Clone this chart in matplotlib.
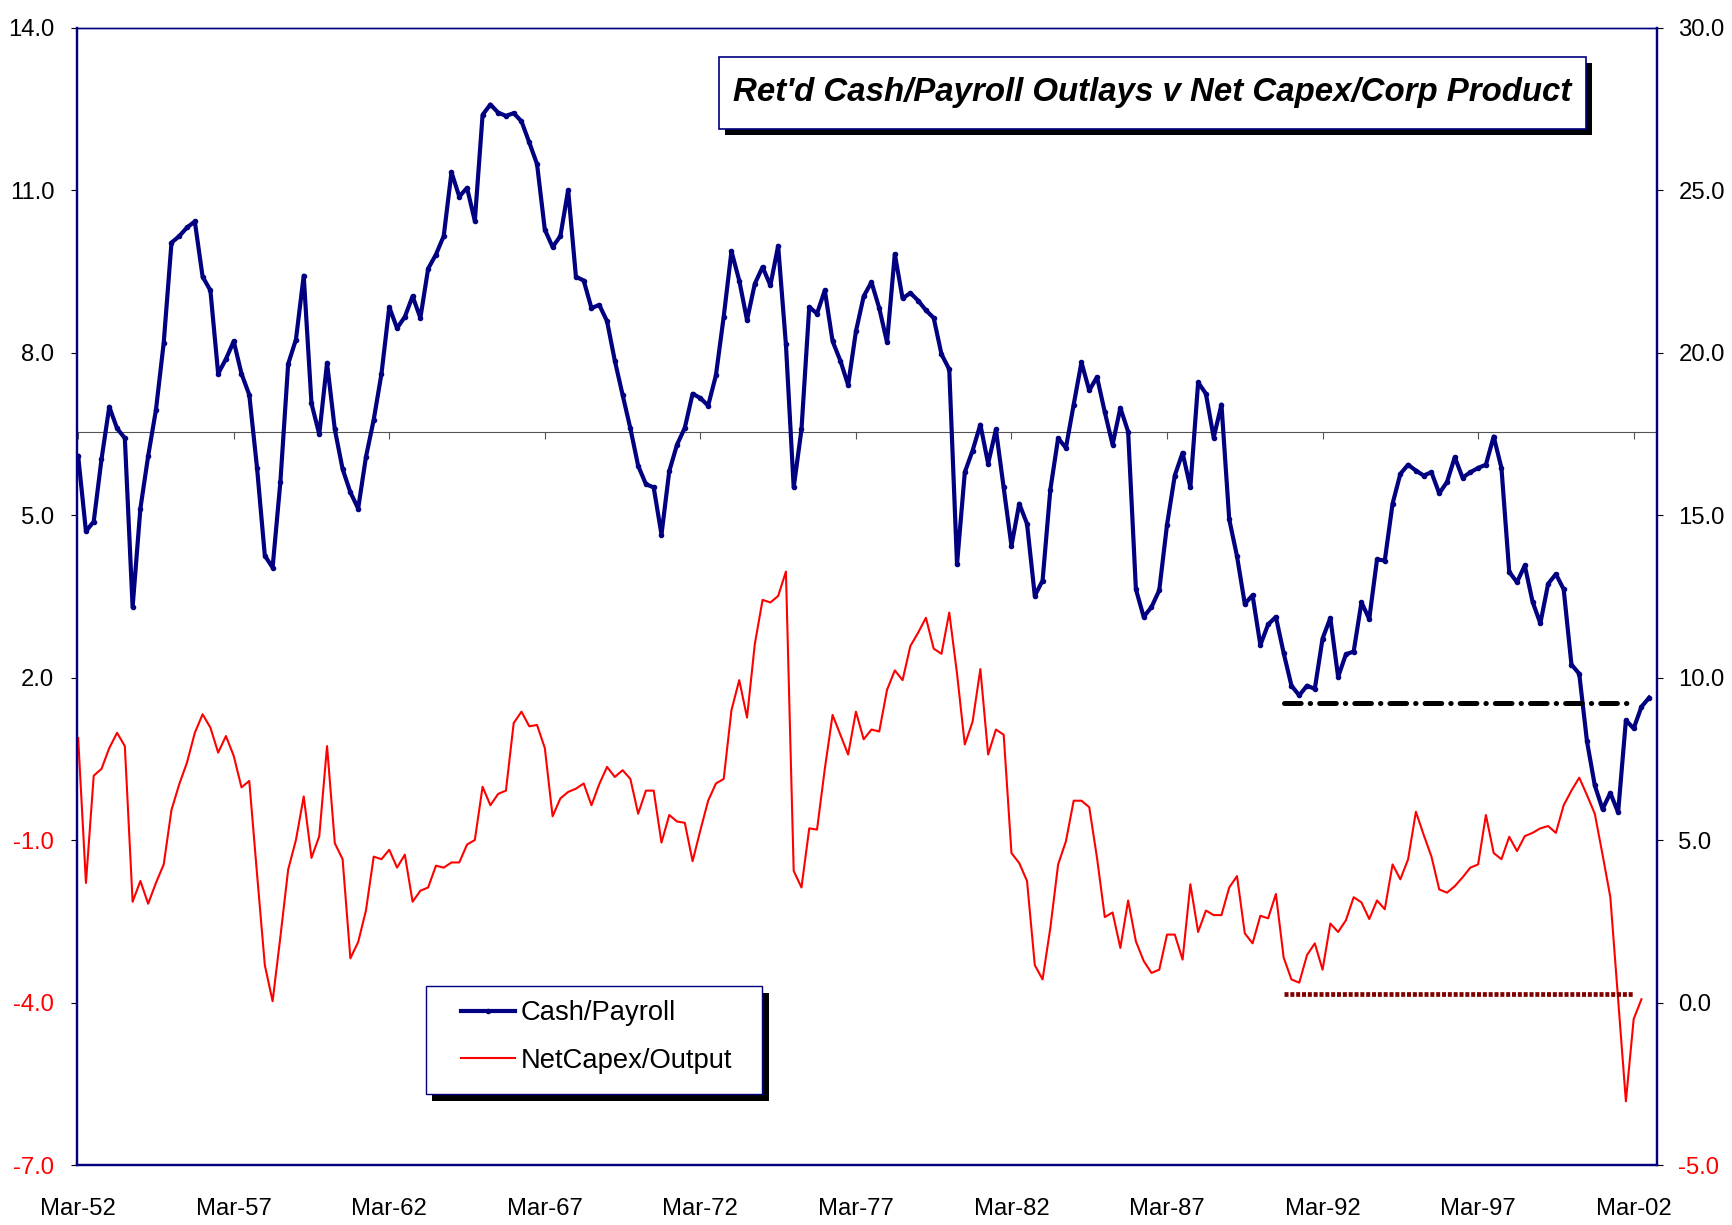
import numpy as np
import matplotlib
matplotlib.use("Agg")
import matplotlib.pyplot as plt
from matplotlib import font_manager
from matplotlib.patches import Rectangle

W, H, DPI = 1732, 1225, 100

# narrow Arial-like face if we have it, otherwise shrink the regular one
names = {f.name for f in font_manager.fontManager.ttflist}
if "Liberation Sans Narrow" in names:
    FONT, k = "Liberation Sans Narrow", 1.0
else:
    FONT, k = "Liberation Sans", 0.82
plt.rcParams["font.family"] = [FONT, "DejaVu Sans"]
plt.rcParams["lines.scale_dashes"] = False

# quarterly data, first point = Mar-52
cash_payroll = [
    6.09, 4.70, 4.88, 6.03, 7.00, 6.60, 6.42, 3.30, 5.12, 6.09,
    6.94, 8.18, 10.03, 10.15, 10.31, 10.42, 9.40, 9.15, 7.61, 7.88,
    8.21, 7.61, 7.22, 5.87, 4.25, 4.03, 5.61, 7.79, 8.24, 9.42,
    7.06, 6.49, 7.81, 6.58, 5.85, 5.42, 5.12, 6.07, 6.76, 7.61,
    8.84, 8.45, 8.66, 9.04, 8.64, 9.55, 9.81, 10.15, 11.33, 10.88,
    11.04, 10.43, 12.39, 12.58, 12.43, 12.37, 12.42, 12.27, 11.88, 11.48,
    10.27, 9.95, 10.15, 11.00, 9.40, 9.33, 8.82, 8.88, 8.58, 7.85,
    7.22, 6.60, 5.91, 5.57, 5.51, 4.64, 5.81, 6.30, 6.61, 7.24,
    7.16, 7.02, 7.58, 8.66, 9.87, 9.33, 8.60, 9.27, 9.58, 9.24,
    9.97, 8.15, 5.51, 6.58, 8.84, 8.72, 9.15, 8.21, 7.85, 7.40,
    8.39, 9.04, 9.30, 8.82, 8.19, 9.82, 9.00, 9.10, 8.96, 8.78,
    8.64, 7.97, 7.69, 4.09, 5.79, 6.19, 6.67, 5.95, 6.58, 5.51,
    4.43, 5.21, 4.84, 3.51, 3.79, 5.47, 6.42, 6.24, 7.04, 7.82,
    7.30, 7.55, 6.90, 6.30, 6.98, 6.54, 3.63, 3.12, 3.30, 3.61,
    4.82, 5.73, 6.15, 5.51, 7.45, 7.24, 6.43, 7.04, 4.92, 4.24,
    3.36, 3.52, 2.60, 2.98, 3.12, 2.45, 1.85, 1.67, 1.85, 1.79,
    2.72, 3.10, 2.01, 2.43, 2.48, 3.39, 3.08, 4.18, 4.16, 5.21,
    5.76, 5.93, 5.82, 5.73, 5.79, 5.40, 5.61, 6.07, 5.69, 5.79,
    5.87, 5.93, 6.45, 5.87, 3.95, 3.76, 4.07, 3.40, 3.00, 3.73,
    3.91, 3.63, 2.24, 2.07, 0.82, 0.01, -0.43, -0.13, -0.49, 1.21,
    1.06, 1.46, 1.63,
]
netcapex_output = [
    8.14, 3.68, 6.98, 7.19, 7.83, 8.30, 7.89, 3.10, 3.74, 3.04,
    3.68, 4.25, 5.93, 6.72, 7.39, 8.30, 8.87, 8.46, 7.69, 8.20,
    7.59, 6.62, 6.82, 3.95, 1.15, 0.04, 2.02, 4.09, 5.00, 6.34,
    4.45, 5.12, 7.89, 4.90, 4.41, 1.36, 1.86, 2.83, 4.49, 4.41,
    4.70, 4.15, 4.55, 3.10, 3.44, 3.54, 4.21, 4.15, 4.31, 4.31,
    4.86, 5.00, 6.64, 6.07, 6.42, 6.52, 8.60, 8.95, 8.50, 8.54,
    7.83, 5.73, 6.28, 6.48, 6.58, 6.74, 6.07, 6.72, 7.25, 6.94,
    7.15, 6.88, 5.81, 6.52, 6.52, 4.92, 5.77, 5.57, 5.53, 4.35,
    5.30, 6.21, 6.74, 6.88, 9.00, 9.92, 8.77, 11.03, 12.39, 12.31,
    12.51, 13.26, 4.05, 3.54, 5.36, 5.32, 7.19, 8.85, 8.24, 7.63,
    8.95, 8.10, 8.40, 8.34, 9.62, 10.22, 9.92, 10.97, 11.38, 11.84,
    10.89, 10.73, 12.00, 10.12, 7.94, 8.64, 10.26, 7.63, 8.40, 8.24,
    4.60, 4.29, 3.74, 1.15, 0.71, 2.30, 4.25, 4.96, 6.21, 6.21,
    6.01, 4.45, 2.63, 2.77, 1.68, 3.14, 1.88, 1.28, 0.91, 1.01,
    2.09, 2.09, 1.32, 3.64, 2.17, 2.83, 2.69, 2.69, 3.54, 3.89,
    2.13, 1.82, 2.67, 2.59, 3.34, 1.38, 0.71, 0.61, 1.46, 1.82,
    1.01, 2.43, 2.17, 2.53, 3.24, 3.08, 2.57, 3.14, 2.87, 4.25,
    3.79, 4.41, 5.87, 5.16, 4.49, 3.48, 3.38, 3.58, 3.85, 4.15,
    4.25, 5.77, 4.60, 4.41, 5.10, 4.66, 5.12, 5.22, 5.36, 5.43,
    5.22, 6.07, 6.52, 6.92, 6.38, 5.81, 4.55, 3.24, 0.10, -3.04,
    -0.51, 0.10,
]

x_tick_pos = [0, 20, 40, 60, 80, 100, 120, 140, 160, 180, 200]
x_tick_labels = ["Mar-52", "Mar-57", "Mar-62", "Mar-67", "Mar-72", "Mar-77",
                 "Mar-82", "Mar-87", "Mar-92", "Mar-97", "Mar-02"]
left_ticks = [14, 11, 8, 5, 2, -1, -4, -7]
right_ticks = [30, 25, 20, 15, 10, 5, 0, -5]

x_cross = 6.53          # where the category axis crosses the left scale
ref_span = [155, 200]   # quarters covered by the two reference levels
cash_ref = [9.22, 9.22]     # right-axis units
capex_ref = [0.25, 0.25]    # right-axis units

NAVY = "#000080"

fig = plt.figure(figsize=(W / DPI, H / DPI), dpi=DPI)
ax = fig.add_axes([77 / W, 1 - 1165 / H, 1580 / W, 1137.4 / H])
ax2 = ax.twinx()

qx = np.arange(len(cash_payroll))
blue, = ax.plot(qx, cash_payroll, color=NAVY, lw=3.0, marker="o", ms=3.0,
                label="Cash/Payroll", zorder=3)
red, = ax2.plot(qx[:len(netcapex_output)], netcapex_output, color="#ff0000",
                lw=1.5, label="NetCapex/Output")
ax2.plot(ref_span, cash_ref, color="black", lw=3.6, dashes=[12, 6.5, 0.3, 6.5],
         dash_capstyle="round")
ax2.plot(ref_span, capex_ref, color="#800000", lw=3.4, dashes=[2.9, 1.3])

ax.axhline(x_cross, color="#555555", lw=0.8, zorder=1)
ax.vlines(x_tick_pos, x_cross - 0.12, x_cross, color="#555555", lw=0.8)

ax.set_xlim(-0.15, 203.0)
ax.set_ylim(-7, 14)
ax2.set_ylim(-5, 30)

ax.set_xticks(x_tick_pos, labels=x_tick_labels)
ax.tick_params(axis="x", length=0, pad=24, labelsize=21 * k)

ax.set_yticks(left_ticks, labels=[f"{t:.1f}" for t in left_ticks])
ax.tick_params(axis="y", direction="out", length=4.3, width=0.8, pad=12,
               labelsize=21 * k)
for t, lab in zip(left_ticks, ax.get_yticklabels()):
    lab.set_color("red" if t < 0 else "black")

ax2.set_yticks(right_ticks, labels=[f"{t:.1f}" for t in right_ticks])
ax2.tick_params(axis="y", direction="out", length=4.3, width=0.8, pad=11,
                labelsize=21 * k)
for t, lab in zip(right_ticks, ax2.get_yticklabels()):
    lab.set_color("red" if t < 0 else "black")

for a in (ax, ax2):
    for side, s in a.spines.items():
        s.set_color(NAVY)
        s.set_linewidth(1.0 if side == "top" else 1.6)

# title box with solid shadow
def px_box(x0, y0, x1, y1):
    return (x0 / W, 1 - y1 / H), (x1 - x0) / W, (y1 - y0) / H

xy, bw, bh = px_box(725, 63, 1592, 135)
fig.patches.append(Rectangle(xy, bw, bh, transform=fig.transFigure,
                             facecolor="black", edgecolor="none"))
xy, bw, bh = px_box(719, 57, 1586, 129)
fig.patches.append(Rectangle(xy, bw, bh, transform=fig.transFigure,
                             facecolor="white", edgecolor=NAVY, lw=1.2))
fig.text(1152.5 / W, 1 - 93 / H, "Ret'd Cash/Payroll Outlays v Net Capex/Corp Product",
         ha="center", va="center", fontsize=29 * k, fontweight="bold",
         fontstyle="italic")

# legend box with solid shadow
xy, bw, bh = px_box(432, 993, 769, 1101)
fig.patches.append(Rectangle(xy, bw, bh, transform=fig.transFigure,
                             facecolor="black", edgecolor="none"))
xy, bw, bh = px_box(426, 986, 762, 1094)
fig.patches.append(Rectangle(xy, bw, bh, transform=fig.transFigure,
                             facecolor="white", edgecolor=NAVY, lw=1.0))
leg_fs = 24 * k
leg_px = leg_fs * DPI / 72
fig.legend(handles=[blue, red], loc="center left",
           bbox_to_anchor=(461 / W, 1 - 1037 / H), frameon=False,
           fontsize=leg_fs, borderpad=0, borderaxespad=0,
           handlelength=54 / leg_px, handletextpad=6 / leg_px,
           labelspacing=0.8)

fig.savefig("out.png", dpi=DPI)
